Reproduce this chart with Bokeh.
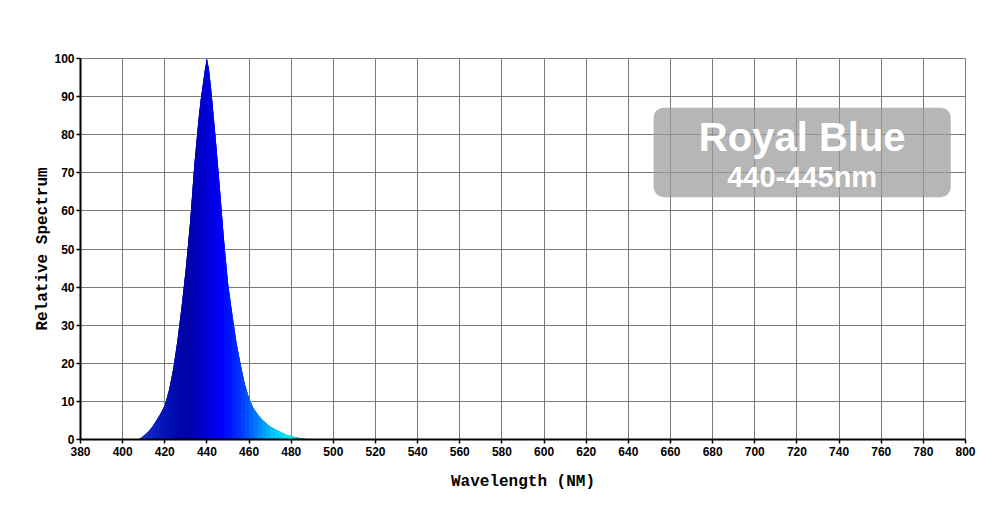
import numpy as np
from bokeh.plotting import figure
from bokeh.models import ColumnDataSource, FixedTicker, BoxAnnotation, Label
from bokeh.embed import file_html
from bokeh.resources import INLINE

# ---- data ----
wavelength = [406, 408, 410, 412, 414, 416, 418, 420, 422, 424, 426, 428, 430,
              432, 434, 436, 437, 438, 439, 440, 441, 442, 443, 444, 446, 448,
              450, 452, 454, 456, 458, 460, 462, 464, 466, 468, 470, 472, 474,
              476, 478, 480, 482, 484, 486, 488, 490]
relative = [0.0, 0.1, 1.0, 2.0, 3.3, 5.0, 6.8, 9.0, 13.0, 18.5, 26, 35, 45,
            57, 72, 84, 89, 93, 97, 100, 97, 92, 86, 80, 67, 53,
            41, 33, 25.5, 19.7, 14.5, 10.8, 8.3, 6.7, 5.3, 4.3, 3.4, 2.8, 2.2,
            1.7, 1.2, 0.9, 0.6, 0.4, 0.2, 0.05, 0.0]

x_ticks = list(range(380, 801, 20))
y_ticks = list(range(0, 101, 10))
badge_title = "Royal Blue"
badge_sub = "440-445nm"
x_label = "Wavelength (NM)"
y_label = "Relative Spectrum"

# colour gradient stops along wavelength (style)
stop_wl = [406, 415, 425, 432, 440, 447, 453, 458, 463, 468, 474, 480, 486, 490]
stop_col = ["#1a3cd0", "#0a20c0", "#0008aa", "#0000a8", "#0000d8", "#0000ff",
            "#0020ff", "#0048ff", "#0078ff", "#00a8ff", "#00d8ff", "#00f4f4",
            "#00a0a0", "#006060"]


def hex2rgb(h):
    h = h.lstrip("#")
    return [int(h[i:i + 2], 16) for i in (0, 2, 4)]


stop_rgb = np.array([hex2rgb(c) for c in stop_col], dtype=float)


def color_at(w):
    r, g, b = (int(round(np.interp(w, stop_wl, stop_rgb[:, k]))) for k in range(3))
    return "#%02x%02x%02x" % (r, g, b)


xs, ys, cols = [], [], []
for i in range(len(wavelength) - 1):
    w0, w1 = wavelength[i], wavelength[i + 1]
    v0, v1 = relative[i], relative[i + 1]
    xs.append([w0, w0, w1, w1])
    ys.append([0, v0, v1, 0])
    cols.append(color_at((w0 + w1) / 2))

src = ColumnDataSource(dict(xs=xs, ys=ys, c=cols))
curve = ColumnDataSource(dict(x=wavelength, y=relative))

p = figure(width=990, height=520, x_range=(380, 800), y_range=(0, 100),
           output_backend="svg", toolbar_location=None,
           min_border_left=80, min_border_right=25, min_border_top=58,
           min_border_bottom=81)
p.background_fill_color = "white"
p.border_fill_color = "white"
p.outline_line_color = "#808080"
p.outline_line_width = 1

# underlay (hides antialiasing seams between the gradient slices)
p.varea(x="x", y1=0, y2="y", source=curve, fill_color="#0010d0")
p.patches("xs", "ys", source=src, fill_color="c", line_color=None)
p.patches("xs", "ys", source=src, fill_color="c", line_color=None)

for ax in (p.xaxis, p.yaxis):
    ax.axis_line_color = "black"
    ax.axis_line_width = 2
    ax.major_tick_line_color = "black"
    ax.major_tick_line_width = 1.5
    ax.major_tick_out = 4
    ax.major_tick_in = 0
    ax.minor_tick_line_color = None
    ax.major_label_text_font = "Liberation Sans"
    ax.major_label_text_font_style = "bold"
    ax.major_label_text_font_size = "12px"
    ax.major_label_text_color = "black"
    ax.axis_label_text_font = "Liberation Mono"
    ax.axis_label_text_font_style = "bold"
    ax.axis_label_text_font_size = "16px"
    ax.axis_label_text_color = "black"

p.xaxis.ticker = FixedTicker(ticks=x_ticks)
p.yaxis.ticker = FixedTicker(ticks=y_ticks)
p.xaxis.major_label_standoff = 3
p.yaxis.major_label_standoff = 2
p.xaxis.axis_label = x_label
p.yaxis.axis_label = y_label
p.xaxis.axis_label_standoff = 14
p.yaxis.axis_label_standoff = -1

p.xgrid.ticker = FixedTicker(ticks=x_ticks)
p.ygrid.ticker = FixedTicker(ticks=y_ticks)
for g in (p.xgrid, p.ygrid):
    g.grid_line_color = "#7a7a7a"
    g.grid_line_width = 1
    g.grid_line_alpha = 1

box = BoxAnnotation(left=652, right=793, top=87.1, bottom=63.6,
                    fill_color="#9a9a9a", fill_alpha=0.72, line_color=None,
                    border_radius=10)
p.add_layout(box)

p.add_layout(Label(x=722.5, y=79.3, text=badge_title, text_align="center",
                   text_baseline="alphabetic", text_color="white",
                   text_font="Liberation Sans", text_font_style="bold",
                   text_font_size="40px"))
p.add_layout(Label(x=722.5, y=68.8, text=badge_sub, text_align="center",
                   text_baseline="alphabetic", text_color="white",
                   text_font="Liberation Sans", text_font_style="bold",
                   text_font_size="29px"))

open("out.html", "w").write(file_html(p, INLINE))
